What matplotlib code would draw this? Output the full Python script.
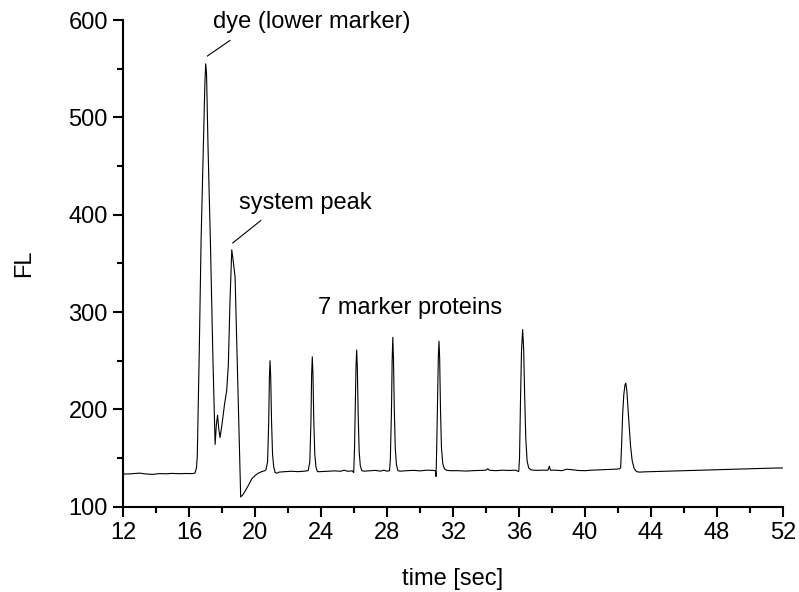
import matplotlib
matplotlib.use("Agg")
import matplotlib.pyplot as plt
from matplotlib.ticker import MultipleLocator

plt.rcParams['font.family'] = ['Liberation Sans', 'DejaVu Sans']

# Electropherogram trace: migration time [sec] and fluorescence (FL)
time_sec = [
    12.0, 12.5, 13.0, 13.4, 13.8, 14.2, 14.6, 15.0, 15.4, 15.8, 16.2, 16.36,
    16.45, 16.50, 16.62, 16.73, 16.87, 16.96, 17.01, 17.06, 17.15, 17.30, 17.45, 17.58,
    17.66, 17.73, 17.80, 17.88, 18.00, 18.15, 18.28, 18.38, 18.48, 18.59, 18.68, 18.79,
    18.90, 19.00, 19.08, 19.13, 19.25, 19.40, 19.60, 19.80, 20.00, 20.20, 20.40, 20.60,
    20.66, 20.76, 20.83, 20.87, 20.91, 20.95, 21.00, 21.06, 21.13, 21.22, 21.32, 21.45,
    21.8, 22.2, 22.6, 23.0, 23.22, 23.32, 23.39, 23.43, 23.47, 23.51, 23.56, 23.62,
    23.69, 23.78, 23.9,
    24.3, 24.8, 25.2, 25.4, 25.6, 25.9, 25.98, 26.03, 26.08, 26.12, 26.16, 26.20,
    26.25, 26.31, 26.38, 26.47, 26.6,
    26.9, 27.3, 27.6, 27.8, 28.0, 28.15, 28.20, 28.27, 28.31, 28.35, 28.39, 28.44,
    28.50, 28.57, 28.66, 28.8,
    29.2, 29.6, 30.0, 30.4, 30.8, 30.93, 30.97, 31.01, 31.07, 31.11, 31.15, 31.19,
    31.24, 31.30, 31.38, 31.48, 31.6, 31.8,
    32.3, 32.8, 33.2, 33.6, 34.0, 34.1, 34.2, 34.6, 35.0, 35.4, 35.8, 35.98,
    36.03, 36.09, 36.15, 36.22, 36.28, 36.34, 36.41, 36.49, 36.58, 36.7,
    37.0, 37.4, 37.75, 37.84, 37.9, 38.2, 38.6, 38.9, 39.2, 39.6, 40.0, 40.4,
    40.8, 41.2, 41.6, 41.9, 42.10,
    42.16, 42.22, 42.28, 42.35, 42.42, 42.47, 42.53, 42.60, 42.68, 42.76, 42.86, 42.98,
    43.13, 43.3, 43.6, 44.0, 44.5, 45.0, 45.5, 46.0, 46.5, 47.0, 47.5, 48.0,
    48.5, 49.0, 49.5, 50.0, 50.5, 51.0, 51.5, 52.0,
]
fl = [
    133.5, 133.8, 134.5, 133.6, 133.2, 134.0, 133.8, 134.2, 133.9, 134.1, 134.0, 134.5,
    140.0, 152.0, 260.0, 374.0, 470.0, 535.0, 555.0, 545.0, 470.0, 368.0, 250.0, 164.0,
    185.0, 194.0, 180.0, 171.0, 185.0, 205.0, 219.0, 245.0, 310.0, 364.0, 352.0, 336.0,
    264.0, 197.0, 144.0, 110.0, 112.0, 116.0, 122.0, 128.5, 132.0, 134.5, 136.0, 137.0,
    138.0, 146.0, 188.0, 233.0, 250.0, 233.0, 188.0, 154.0, 141.0, 135.0, 134.5, 135.5,
    136.0, 136.4, 136.0, 136.5, 137.0, 146.0, 189.0, 236.0, 254.0, 236.0, 189.0, 154.0,
    141.0, 136.0, 136.0,
    136.3, 136.8, 136.4, 137.5, 136.4, 136.8, 135.0, 160.0, 210.0, 245.0, 261.0, 243.0,
    195.0, 157.0, 142.0, 137.0, 136.5,
    136.8, 137.3, 136.5, 137.5, 136.5, 137.0, 148.0, 200.0, 250.0, 274.0, 252.0, 200.0,
    160.0, 143.0, 137.0, 136.5,
    137.0, 137.3, 136.8, 137.5, 137.3, 137.0, 131.0, 160.0, 220.0, 255.0, 270.0, 252.0,
    200.0, 160.0, 144.0, 139.0, 137.5, 137.0,
    137.0, 136.6, 137.0, 137.2, 137.5, 139.0, 137.5, 137.0, 137.5, 137.2, 137.5, 136.0,
    150.0, 210.0, 260.0, 282.0, 262.0, 215.0, 170.0, 147.0, 140.0, 138.0,
    137.3, 137.5, 137.5, 141.5, 137.5, 137.5, 137.0, 138.5, 138.0, 137.2, 137.0, 137.5,
    137.8, 138.2, 138.5, 138.6, 139.0,
    140.0, 165.0, 195.0, 215.0, 225.0, 227.0, 220.0, 203.0, 182.0, 162.0, 147.0, 139.0,
    136.0, 135.5, 135.8, 136.0, 136.2, 136.5, 136.7, 137.0, 137.3, 137.5, 137.8, 138.0,
    138.2, 138.5, 138.7, 139.0, 139.2, 139.5, 139.7, 139.8,
]

x_ticks = [12, 16, 20, 24, 28, 32, 36, 40, 44, 48, 52]
y_ticks = [100, 200, 300, 400, 500, 600]

# Peak labels: text, text anchor (time, FL) and leader line ends
labels = ['dye (lower marker)', 'system peak', '7 marker proteins']
label_pos = [(17.45, 598), (19.05, 412), (23.8, 304)]
leaders = [((17.11, 563), (18.48, 579)), ((18.65, 371), (20.35, 394))]

fig = plt.figure(figsize=(7.99, 5.92), dpi=100)
ax = fig.add_axes([0.154, 0.1441, 0.826, 0.8221])

ax.plot(time_sec, fl, color='black', linewidth=0.8)

ax.set_xlim(12, 52)
ax.set_ylim(100, 600)
ax.set_xticks(x_ticks)
ax.set_yticks(y_ticks)
ax.xaxis.set_minor_locator(MultipleLocator(2))
ax.yaxis.set_minor_locator(MultipleLocator(50))

for side in ('top', 'right'):
    ax.spines[side].set_visible(False)
for side in ('left', 'bottom'):
    ax.spines[side].set_linewidth(1.5)

ax.tick_params(which='major', direction='out', length=7, width=1.5,
               labelsize=17, pad=4)
ax.tick_params(which='minor', direction='out', length=4, width=1.5)

ax.set_xlabel('time [sec]', fontsize=17, labelpad=17)
ax.set_ylabel('FL', fontsize=17, labelpad=24)

for text, (tx, ty) in zip(labels, label_pos):
    ax.text(tx, ty, text, fontsize=17, va='center', ha='left')
for (x0, y0), (x1, y1) in leaders:
    ax.plot([x0, x1], [y0, y1], color='black', linewidth=0.8)

fig.savefig('out.png', dpi=100)
